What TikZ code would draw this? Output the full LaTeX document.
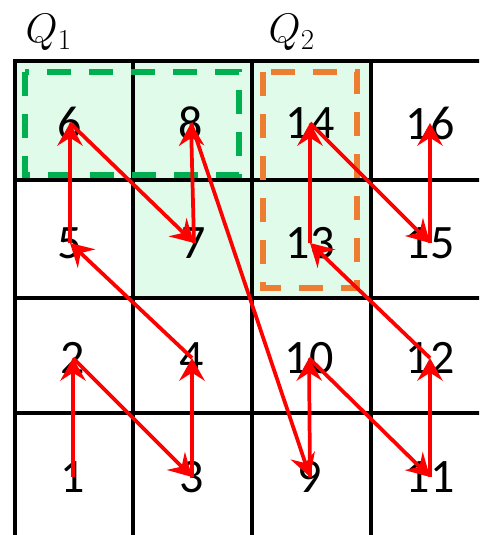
\RequirePackage{fix-cm}
\documentclass[tikz,border=0pt]{standalone}
\usepackage{fontspec}
\setmainfont{Carlito}
\usepackage{tikz}
\usetikzlibrary{arrows.meta}
\definecolor{cellgreen}{RGB}{224,251,234}
\definecolor{boxgreen}{RGB}{0,176,80}
\definecolor{boxorange}{RGB}{237,125,49}
\definecolor{pathred}{RGB}{255,0,0}

\begin{document}
\begin{tikzpicture}[x=0.75pt, y=-0.75pt, line width=2.6pt, line cap=rect,
  num/.style={font=\fontsize{36}{40}\selectfont, inner sep=0pt},
  qlabel/.style={font=\fontsize{31}{36}\selectfont, inner sep=0pt, anchor=base west},
  frame/.style={line width=4pt, line cap=butt, dash pattern=on 18pt off 13.5pt},
  flow/.style={draw=pathred, line width=2.8pt, line cap=butt, -{Stealth[length=17pt,width=19pt,inset=6pt]}}]
\useasboundingbox (0,0) rectangle (479,535);
\clip (0,0) rectangle (479,535);
% shaded cells
\fill[cellgreen] (15,61) rectangle (133,180);
\fill[cellgreen] (133,61) rectangle (252,298);
\fill[cellgreen] (252,61) rectangle (371,298);
% grid
\foreach \x in {15,133,252,371}{ \draw (\x,61) -- (\x,545); }
\foreach \y in {61,180,298,413}{ \draw (15,\y) -- (490,\y); }
% quadrant labels
\node[qlabel] (q1) at (24,43) {$Q_1$};
\node[qlabel] (q2) at (267,43) {$Q_2$};
% dashed quadrant boxes
\draw[frame, boxgreen] (25,72) rectangle (239,175);
\draw[frame, boxorange] (263,72) rectangle (357,288);
% cell numbers
\foreach \k/\x/\y in {1/73/477, 2/73/358, 3/192/477, 4/192/358,
  5/70/243, 6/70/123, 7/194/243, 8/191/123,
  9/310/477, 10/309/358, 11/430/477, 12/430/358,
  13/310/243, 14/310/123, 15/430/243, 16/430/123}{
  \node[num] (n\k) at (\x,\y) {\k};
}
% visiting order
\foreach \a/\b in {1/2,2/3,3/4,4/5,5/6,6/7,7/8,8/9,9/10,10/11,11/12,12/13,13/14,14/15,15/16}{
  \draw[flow] (n\a.center) -- (n\b.center);
}
\end{tikzpicture}
\end{document}
